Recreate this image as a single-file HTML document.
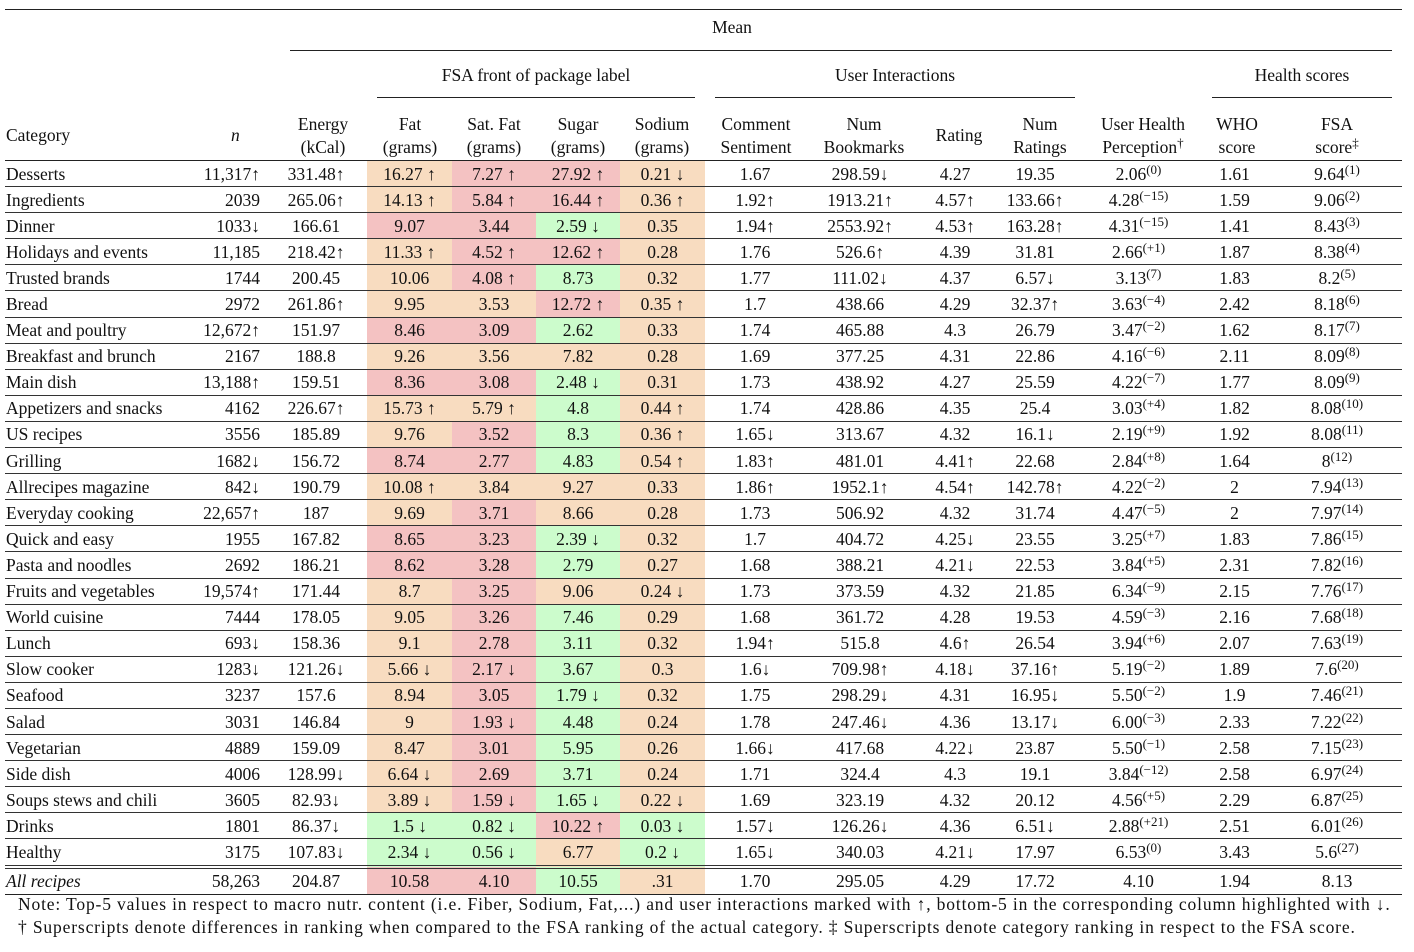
<!DOCTYPE html>
<html><head><meta charset="utf-8"><style>
body{margin:0;width:1414px;height:952px;background:#fff;position:relative;font-family:"Liberation Serif",serif;font-size:17.5px;color:#111;overflow:hidden}
.a{position:absolute;white-space:nowrap}
.c{transform:translateX(-50%);text-align:center}
.h{position:absolute;height:1px;background:#222}
table{position:absolute;left:5px;top:160px;border-collapse:collapse;table-layout:fixed;width:1397px}
td{padding:0;height:25.1px;text-align:center;border-bottom:1px solid #333;line-height:24px;white-space:nowrap}
tr:first-child td{border-top:1px solid #222}
td:first-child{text-align:left;padding-left:1px}
td:nth-child(2){text-align:right;padding-right:5px}
.o{background:#f8dcc0}.r{background:#f4c2c2}.g{background:#ccfccc}
sup{font-size:13px;vertical-align:6px;line-height:0}
tr.last td{border-bottom:4px double #333}
tr.all td{height:25px;border-bottom:1px solid #222}
.n{letter-spacing:0.85px}
</style></head><body>
<div class="h" style="left:5px;top:9px;width:1397px"></div>
<div class="a c" style="left:732px;top:17px">Mean</div>
<div class="h" style="left:290px;top:50px;width:1102px"></div>
<div class="a c" style="left:536px;top:65px">FSA front of package label</div>
<div class="a c" style="left:895px;top:65px">User Interactions</div>
<div class="a c" style="left:1302px;top:65px">Health scores</div>
<div class="h" style="left:377px;top:97px;width:318px"></div>
<div class="h" style="left:715px;top:97px;width:360px"></div>
<div class="h" style="left:1212px;top:97px;width:180px"></div>
<div class="a" style="left:6px;top:125px">Category</div>
<div class="a" style="left:231px;top:125px;font-style:italic">n</div>
<div class="a c" style="left:323px;top:113px;line-height:23px">Energy<br>(kCal)</div>
<div class="a c" style="left:410px;top:113px;line-height:23px">Fat<br>(grams)</div>
<div class="a c" style="left:494px;top:113px;line-height:23px">Sat. Fat<br>(grams)</div>
<div class="a c" style="left:578px;top:113px;line-height:23px">Sugar<br>(grams)</div>
<div class="a c" style="left:662px;top:113px;line-height:23px">Sodium<br>(grams)</div>
<div class="a c" style="left:756px;top:113px;line-height:23px">Comment<br>Sentiment</div>
<div class="a c" style="left:864px;top:113px;line-height:23px">Num<br>Bookmarks</div>
<div class="a c" style="left:959px;top:125px">Rating</div>
<div class="a c" style="left:1040px;top:113px;line-height:23px">Num<br>Ratings</div>
<div class="a c" style="left:1143px;top:113px;line-height:23px">User Health<br>Perception<sup>†</sup></div>
<div class="a c" style="left:1237px;top:113px;line-height:23px">WHO<br>score</div>
<div class="a c" style="left:1337px;top:113px;line-height:23px">FSA<br>score<sup>‡</sup></div>
<table>
<colgroup><col style="width:185px"><col style="width:75px"><col style="width:102px"><col style="width:85px"><col style="width:84px"><col style="width:84px"><col style="width:85px"><col style="width:5px"><col style="width:90px"><col style="width:120px"><col style="width:70px"><col style="width:90px"><col style="width:117px"><col style="width:75px"><col style="width:130px"></colgroup>
<tr><td>Desserts</td><td>11,317↑</td><td>331.48↑</td><td class="o">16.27 ↑</td><td class="r">7.27 ↑</td><td class="r">27.92 ↑</td><td class="o">0.21 ↓</td><td></td><td>1.67</td><td>298.59↓</td><td>4.27</td><td>19.35</td><td>2.06<sup>(0)</sup></td><td>1.61</td><td>9.64<sup>(1)</sup></td></tr>
<tr><td>Ingredients</td><td>2039</td><td>265.06↑</td><td class="o">14.13 ↑</td><td class="r">5.84 ↑</td><td class="r">16.44 ↑</td><td class="o">0.36 ↑</td><td></td><td>1.92↑</td><td>1913.21↑</td><td>4.57↑</td><td>133.66↑</td><td>4.28<sup>(−15)</sup></td><td>1.59</td><td>9.06<sup>(2)</sup></td></tr>
<tr><td>Dinner</td><td>1033↓</td><td>166.61</td><td class="r">9.07</td><td class="r">3.44</td><td class="g">2.59 ↓</td><td class="o">0.35</td><td></td><td>1.94↑</td><td>2553.92↑</td><td>4.53↑</td><td>163.28↑</td><td>4.31<sup>(−15)</sup></td><td>1.41</td><td>8.43<sup>(3)</sup></td></tr>
<tr><td>Holidays and events</td><td>11,185</td><td>218.42↑</td><td class="o">11.33 ↑</td><td class="r">4.52 ↑</td><td class="r">12.62 ↑</td><td class="o">0.28</td><td></td><td>1.76</td><td>526.6↑</td><td>4.39</td><td>31.81</td><td>2.66<sup>(+1)</sup></td><td>1.87</td><td>8.38<sup>(4)</sup></td></tr>
<tr><td>Trusted brands</td><td>1744</td><td>200.45</td><td class="o">10.06</td><td class="r">4.08 ↑</td><td class="g">8.73</td><td class="o">0.32</td><td></td><td>1.77</td><td>111.02↓</td><td>4.37</td><td>6.57↓</td><td>3.13<sup>(7)</sup></td><td>1.83</td><td>8.2<sup>(5)</sup></td></tr>
<tr><td>Bread</td><td>2972</td><td>261.86↑</td><td class="o">9.95</td><td class="o">3.53</td><td class="r">12.72 ↑</td><td class="o">0.35 ↑</td><td></td><td>1.7</td><td>438.66</td><td>4.29</td><td>32.37↑</td><td>3.63<sup>(−4)</sup></td><td>2.42</td><td>8.18<sup>(6)</sup></td></tr>
<tr><td>Meat and poultry</td><td>12,672↑</td><td>151.97</td><td class="r">8.46</td><td class="r">3.09</td><td class="g">2.62</td><td class="o">0.33</td><td></td><td>1.74</td><td>465.88</td><td>4.3</td><td>26.79</td><td>3.47<sup>(−2)</sup></td><td>1.62</td><td>8.17<sup>(7)</sup></td></tr>
<tr><td>Breakfast and brunch</td><td>2167</td><td>188.8</td><td class="o">9.26</td><td class="o">3.56</td><td class="o">7.82</td><td class="o">0.28</td><td></td><td>1.69</td><td>377.25</td><td>4.31</td><td>22.86</td><td>4.16<sup>(−6)</sup></td><td>2.11</td><td>8.09<sup>(8)</sup></td></tr>
<tr><td>Main dish</td><td>13,188↑</td><td>159.51</td><td class="r">8.36</td><td class="r">3.08</td><td class="g">2.48 ↓</td><td class="o">0.31</td><td></td><td>1.73</td><td>438.92</td><td>4.27</td><td>25.59</td><td>4.22<sup>(−7)</sup></td><td>1.77</td><td>8.09<sup>(9)</sup></td></tr>
<tr><td>Appetizers and snacks</td><td>4162</td><td>226.67↑</td><td class="o">15.73 ↑</td><td class="o">5.79 ↑</td><td class="g">4.8</td><td class="o">0.44 ↑</td><td></td><td>1.74</td><td>428.86</td><td>4.35</td><td>25.4</td><td>3.03<sup>(+4)</sup></td><td>1.82</td><td>8.08<sup>(10)</sup></td></tr>
<tr><td>US recipes</td><td>3556</td><td>185.89</td><td class="o">9.76</td><td class="r">3.52</td><td class="g">8.3</td><td class="o">0.36 ↑</td><td></td><td>1.65↓</td><td>313.67</td><td>4.32</td><td>16.1↓</td><td>2.19<sup>(+9)</sup></td><td>1.92</td><td>8.08<sup>(11)</sup></td></tr>
<tr><td>Grilling</td><td>1682↓</td><td>156.72</td><td class="r">8.74</td><td class="r">2.77</td><td class="g">4.83</td><td class="o">0.54 ↑</td><td></td><td>1.83↑</td><td>481.01</td><td>4.41↑</td><td>22.68</td><td>2.84<sup>(+8)</sup></td><td>1.64</td><td>8<sup>(12)</sup></td></tr>
<tr><td>Allrecipes magazine</td><td>842↓</td><td>190.79</td><td class="o">10.08 ↑</td><td class="o">3.84</td><td class="o">9.27</td><td class="o">0.33</td><td></td><td>1.86↑</td><td>1952.1↑</td><td>4.54↑</td><td>142.78↑</td><td>4.22<sup>(−2)</sup></td><td>2</td><td>7.94<sup>(13)</sup></td></tr>
<tr><td>Everyday cooking</td><td>22,657↑</td><td>187</td><td class="o">9.69</td><td class="r">3.71</td><td class="o">8.66</td><td class="o">0.28</td><td></td><td>1.73</td><td>506.92</td><td>4.32</td><td>31.74</td><td>4.47<sup>(−5)</sup></td><td>2</td><td>7.97<sup>(14)</sup></td></tr>
<tr><td>Quick and easy</td><td>1955</td><td>167.82</td><td class="r">8.65</td><td class="r">3.23</td><td class="g">2.39 ↓</td><td class="o">0.32</td><td></td><td>1.7</td><td>404.72</td><td>4.25↓</td><td>23.55</td><td>3.25<sup>(+7)</sup></td><td>1.83</td><td>7.86<sup>(15)</sup></td></tr>
<tr><td>Pasta and noodles</td><td>2692</td><td>186.21</td><td class="r">8.62</td><td class="r">3.28</td><td class="g">2.79</td><td class="o">0.27</td><td></td><td>1.68</td><td>388.21</td><td>4.21↓</td><td>22.53</td><td>3.84<sup>(+5)</sup></td><td>2.31</td><td>7.82<sup>(16)</sup></td></tr>
<tr><td>Fruits and vegetables</td><td>19,574↑</td><td>171.44</td><td class="o">8.7</td><td class="r">3.25</td><td class="o">9.06</td><td class="o">0.24 ↓</td><td></td><td>1.73</td><td>373.59</td><td>4.32</td><td>21.85</td><td>6.34<sup>(−9)</sup></td><td>2.15</td><td>7.76<sup>(17)</sup></td></tr>
<tr><td>World cuisine</td><td>7444</td><td>178.05</td><td class="o">9.05</td><td class="r">3.26</td><td class="g">7.46</td><td class="o">0.29</td><td></td><td>1.68</td><td>361.72</td><td>4.28</td><td>19.53</td><td>4.59<sup>(−3)</sup></td><td>2.16</td><td>7.68<sup>(18)</sup></td></tr>
<tr><td>Lunch</td><td>693↓</td><td>158.36</td><td class="o">9.1</td><td class="r">2.78</td><td class="g">3.11</td><td class="o">0.32</td><td></td><td>1.94↑</td><td>515.8</td><td>4.6↑</td><td>26.54</td><td>3.94<sup>(+6)</sup></td><td>2.07</td><td>7.63<sup>(19)</sup></td></tr>
<tr><td>Slow cooker</td><td>1283↓</td><td>121.26↓</td><td class="o">5.66 ↓</td><td class="r">2.17 ↓</td><td class="g">3.67</td><td class="o">0.3</td><td></td><td>1.6↓</td><td>709.98↑</td><td>4.18↓</td><td>37.16↑</td><td>5.19<sup>(−2)</sup></td><td>1.89</td><td>7.6<sup>(20)</sup></td></tr>
<tr><td>Seafood</td><td>3237</td><td>157.6</td><td class="o">8.94</td><td class="r">3.05</td><td class="g">1.79 ↓</td><td class="o">0.32</td><td></td><td>1.75</td><td>298.29↓</td><td>4.31</td><td>16.95↓</td><td>5.50<sup>(−2)</sup></td><td>1.9</td><td>7.46<sup>(21)</sup></td></tr>
<tr><td>Salad</td><td>3031</td><td>146.84</td><td class="o">9</td><td class="r">1.93 ↓</td><td class="g">4.48</td><td class="o">0.24</td><td></td><td>1.78</td><td>247.46↓</td><td>4.36</td><td>13.17↓</td><td>6.00<sup>(−3)</sup></td><td>2.33</td><td>7.22<sup>(22)</sup></td></tr>
<tr><td>Vegetarian</td><td>4889</td><td>159.09</td><td class="o">8.47</td><td class="r">3.01</td><td class="g">5.95</td><td class="o">0.26</td><td></td><td>1.66↓</td><td>417.68</td><td>4.22↓</td><td>23.87</td><td>5.50<sup>(−1)</sup></td><td>2.58</td><td>7.15<sup>(23)</sup></td></tr>
<tr><td>Side dish</td><td>4006</td><td>128.99↓</td><td class="o">6.64 ↓</td><td class="r">2.69</td><td class="g">3.71</td><td class="o">0.24</td><td></td><td>1.71</td><td>324.4</td><td>4.3</td><td>19.1</td><td>3.84<sup>(−12)</sup></td><td>2.58</td><td>6.97<sup>(24)</sup></td></tr>
<tr><td>Soups stews and chili</td><td>3605</td><td>82.93↓</td><td class="o">3.89 ↓</td><td class="r">1.59 ↓</td><td class="g">1.65 ↓</td><td class="o">0.22 ↓</td><td></td><td>1.69</td><td>323.19</td><td>4.32</td><td>20.12</td><td>4.56<sup>(+5)</sup></td><td>2.29</td><td>6.87<sup>(25)</sup></td></tr>
<tr><td>Drinks</td><td>1801</td><td>86.37↓</td><td class="g">1.5 ↓</td><td class="g">0.82 ↓</td><td class="r">10.22 ↑</td><td class="g">0.03 ↓</td><td></td><td>1.57↓</td><td>126.26↓</td><td>4.36</td><td>6.51↓</td><td>2.88<sup>(+21)</sup></td><td>2.51</td><td>6.01<sup>(26)</sup></td></tr>
<tr class="last"><td>Healthy</td><td>3175</td><td>107.83↓</td><td class="g">2.34 ↓</td><td class="g">0.56 ↓</td><td class="o">6.77</td><td class="g">0.2 ↓</td><td></td><td>1.65↓</td><td>340.03</td><td>4.21↓</td><td>17.97</td><td>6.53<sup>(0)</sup></td><td>3.43</td><td>5.6<sup>(27)</sup></td></tr>
<tr class="all"><td style="font-style:italic">All recipes</td><td>58,263</td><td>204.87</td><td class="r">10.58</td><td class="r">4.10</td><td class="g">10.55</td><td class="o">.31</td><td></td><td>1.70</td><td>295.05</td><td>4.29</td><td>17.72</td><td>4.10</td><td>1.94</td><td>8.13</td></tr>
</table>
<div class="a n" style="left:18px;top:894px">Note: Top-5 values in respect to macro nutr. content (i.e. Fiber, Sodium, Fat,...) and user interactions marked with ↑, bottom-5 in the corresponding column highlighted with ↓.</div>
<div class="a n" style="left:18px;top:917px">† Superscripts denote differences in ranking when compared to the FSA ranking of the actual category. ‡ Superscripts denote category ranking in respect to the FSA score.</div>
</body></html>
